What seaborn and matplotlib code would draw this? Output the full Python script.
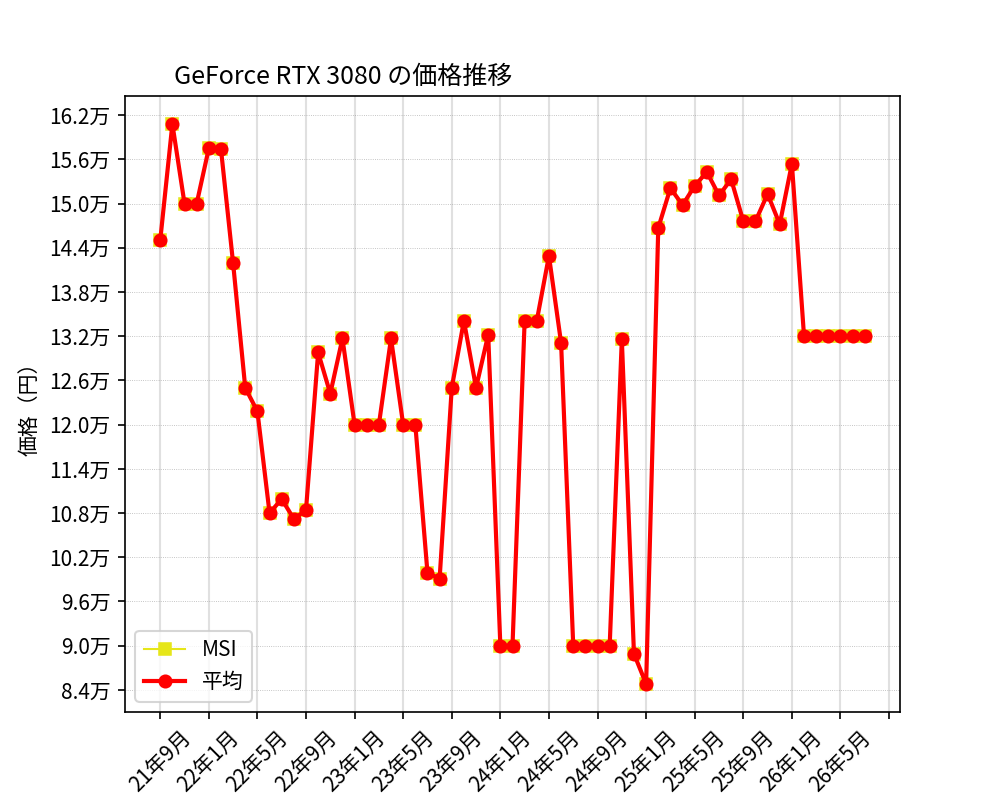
import matplotlib
matplotlib.use('Agg')
import matplotlib.pyplot as plt
from matplotlib import font_manager
import seaborn as sns
import pandas as pd

# monthly prices (yen), 21年9月 .. 26年7月
months = [f'{y}年{m}月' for y, m in
          [(21, 9), (21, 10), (21, 11), (21, 12)] +
          [(yy, mm) for yy in range(22, 26) for mm in range(1, 13)] +
          [(26, mm) for mm in range(1, 8)]]
avg_price = [145000, 160800, 150000, 150000, 157500, 157400, 141900, 125000, 121800,
             108000, 109900, 107200, 108400, 129800, 124200, 131700, 120000, 120000,
             120000, 131700, 120000, 120000, 99900, 99100, 125000, 134100, 125000,
             132200, 90000, 90000, 134100, 134100, 142900, 131100, 90000, 90000,
             90000, 90000, 131600, 88900, 84800, 146700, 152100, 149800, 152400,
             154300, 151100, 153300, 147600, 147600, 151300, 147200, 155400, 132000,
             132000, 132000, 132000, 132000, 132000]
msi_price = list(avg_price)

tick_pos = list(range(0, 61, 4))
tick_labels = ['21年9月', '22年1月', '22年5月', '22年9月', '23年1月', '23年5月',
               '23年9月', '24年1月', '24年5月', '24年9月', '25年1月', '25年5月',
               '25年9月', '26年1月', '26年5月', '']
y_ticks = [84000, 90000, 96000, 102000, 108000, 114000, 120000, 126000, 132000,
           138000, 144000, 150000, 156000, 162000]

df = pd.DataFrame({'idx': range(len(months)), 'month': months,
                   'MSI': msi_price, '平均': avg_price})

names = {f.name for f in font_manager.fontManager.ttflist}
jp = 'Noto Sans Mono CJK JP' if 'Noto Sans Mono CJK JP' in names else 'Noto Sans CJK JP'
plt.rcParams['font.family'] = [jp, 'DejaVu Sans']

fig, ax = plt.subplots(figsize=(1000 / 150, 800 / 150), dpi=150)

sns.lineplot(data=df, x='idx', y='MSI', ax=ax, color='#e6e619', marker='s',
             linewidth=1, markersize=6, markeredgecolor='#e6e619', label='MSI')
sns.lineplot(data=df, x='idx', y='平均', ax=ax, color='red', marker='o',
             linewidth=2, markersize=6, markeredgecolor='red', label='平均')

ax.set_xticks(tick_pos)
ax.set_xticklabels(tick_labels, rotation=45)
ax.set_yticks(y_ticks)
ax.set_yticklabels([f'{v / 10000:.1f}万' for v in y_ticks])
ax.set_xlabel('')
ax.set_ylabel('価格（円）')
ax.set_title('GeForce RTX 3080 の価格推移', ha='right')

ax.grid(True, color='lightgray', alpha=0.7, linewidth=1)
ax.yaxis.grid(True, which='major', color='gray', linestyle=':', linewidth=0.4, alpha=0.6)
ax.legend(loc='lower left')

fig.savefig('out.png', dpi=150)
